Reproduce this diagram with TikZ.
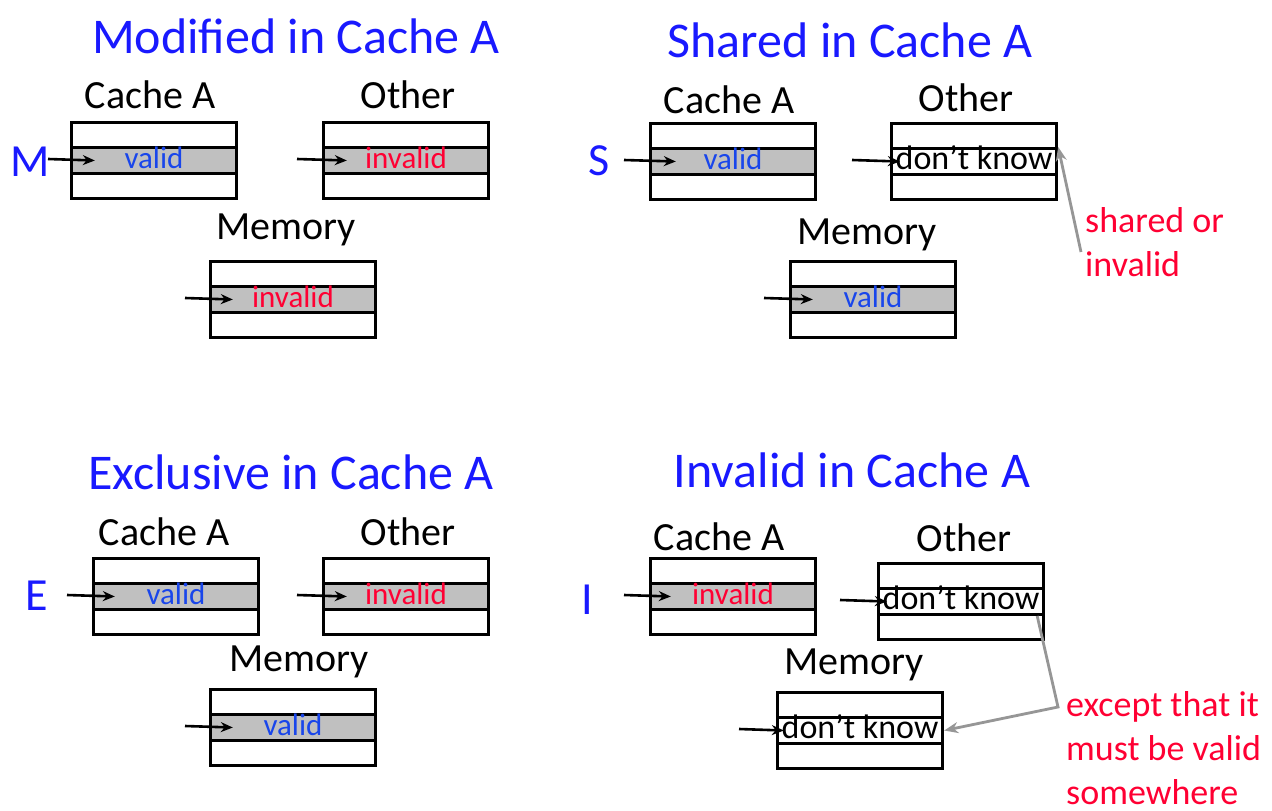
\documentclass[tikz,border=0pt]{standalone}
\usepackage{fontspec}
\setmainfont{Carlito}
\usetikzlibrary{arrows.meta}
\definecolor{ttlblue}{RGB}{25,25,255}
\definecolor{valblue}{RGB}{25,70,235}
\definecolor{notered}{RGB}{255,0,51}
\definecolor{rowgray}{RGB}{192,192,192}
\definecolor{linkgray}{RGB}{150,150,150}
\tikzset{
  outerbox/.style={draw, line width=3pt, minimum width=165pt, minimum height=76pt,
    inner sep=0pt, anchor=north west},
  rowbox/.style={draw, line width=3.4pt, minimum width=165pt, minimum height=25.5pt,
    inner sep=0pt, text height=20pt, text depth=5pt, font=\fontsize{31}{36}\selectfont},
  validrow/.style={rowbox, fill=rowgray, text=valblue},
  invalidrow/.style={rowbox, fill=rowgray, text=notered},
  unknownrow/.style={rowbox, fill=white, text=black, font=\fontsize{34}{38}\selectfont},
  ttl/.style={text=ttlblue, font=\fontsize{50}{60}\selectfont},
  lbl/.style={font=\fontsize{40}{48}\selectfont},
  state/.style={text=ttlblue, font=\fontsize{46}{56}\selectfont},
  ptr/.style={-{Stealth[length=12pt,width=10pt]}, line width=2.6pt},
  link/.style={linkgray, line width=2.8pt, -{Stealth[length=14pt,width=11pt]}},
  note/.style={text=notered, align=left, anchor=base west, inner sep=0pt},
}
\begin{document}
\begin{tikzpicture}[x=1pt, y=-1pt]
\useasboundingbox[fill=white] (0,0) rectangle (1272,811);

% ---------- Modified ----------
\node[ttl] (mt) at (296,36) {Modified in Cache A};
\node[lbl] (mal) at (150,95) {Cache A};
\node[lbl] (mol) at (408,95) {Other};
\node[lbl] (mml) at (286,230) {Memory};
\node[outerbox] (ma) at (70,121) {};
\node[validrow] (ma-row) at (ma.center) {valid};
\node[outerbox] (mo) at (322,121) {};
\node[invalidrow] (mo-row) at (mo.center) {invalid};
\node[outerbox] (mm) at (209,260) {};
\node[invalidrow] (mm-row) at (mm.center) {invalid};
\node[state] (ms) at (30,162) {M};
\coordinate (ma-in) at (48,159);
\coordinate (mo-in) at (297,159);
\coordinate (mm-in) at (185,298);
\draw[ptr] (ma-in) -- ([xshift=25pt]ma-row.west);
\draw[ptr] (mo-in) -- ([xshift=25pt]mo-row.west);
\draw[ptr] (mm-in) -- ([xshift=24pt]mm-row.west);

% ---------- Shared ----------
\node[ttl] (st) at (850,40) {Shared in Cache A};
\node[lbl] (sal) at (729,100) {Cache A};
\node[lbl] (sol) at (966,98) {Other};
\node[lbl] (sml) at (867,235) {Memory};
\node[outerbox] (sa) at (649,122) {};
\node[validrow] (sa-row) at (sa.center) {valid};
\node[outerbox] (so) at (890,122) {};
\node[unknownrow] (so-row) at (so.center) {don’t know};
\node[outerbox] (sm) at (789,260) {};
\node[validrow] (sm-row) at (sm.center) {valid};
\node[state] (ss) at (599,161) {S};
\coordinate (sa-in) at (624,160);
\coordinate (so-in) at (852,160);
\coordinate (sm-in) at (764,298);
\draw[ptr] (sa-in) -- ([xshift=27pt]sa-row.west);
\draw[ptr] (so-in) -- ([xshift=10pt]so-row.west);
\draw[ptr] (sm-in) -- ([xshift=24pt]sm-row.west);
\node[note, font=\fontsize{36}{44}\selectfont] (sn) at (1085,276) {shared or\\invalid};
\coordinate (sn-tail) at (1081,252);
\draw[link] (sn-tail) -- (so-row.north east);

% ---------- Exclusive ----------
\node[ttl] (et) at (291,472) {Exclusive in Cache A};
\node[lbl] (eal) at (164,532) {Cache A};
\node[lbl] (eol) at (408,532) {Other};
\node[lbl] (eml) at (299,662) {Memory};
\node[outerbox] (ea) at (92,557) {};
\node[validrow] (ea-row) at (ea.center) {valid};
\node[outerbox] (eo) at (322,557) {};
\node[invalidrow] (eo-row) at (eo.center) {invalid};
\node[outerbox] (em) at (209,688) {};
\node[validrow] (em-row) at (em.center) {valid};
\node[state] (es) at (37,596) {E};
\coordinate (ea-in) at (67,595);
\coordinate (eo-in) at (297,595);
\coordinate (em-in) at (185,726);
\draw[ptr] (ea-in) -- ([xshift=23pt]ea-row.west);
\draw[ptr] (eo-in) -- ([xshift=25pt]eo-row.west);
\draw[ptr] (em-in) -- ([xshift=24pt]em-row.west);

% ---------- Invalid ----------
\node[ttl] (it) at (852,470) {Invalid in Cache A};
\node[lbl] (ial) at (719,537) {Cache A};
\node[lbl] (iol) at (964,538) {Other};
\node[lbl] (iml) at (854,665) {Memory};
\node[outerbox] (ia) at (649,557) {};
\node[invalidrow] (ia-row) at (ia.center) {invalid};
\node[outerbox] (io) at (877,562) {};
\node[unknownrow] (io-row) at (io.center) {don’t know};
\node[outerbox] (im) at (776,691) {};
\node[unknownrow] (im-row) at (im.center) {don’t know};
\node[state] (is) at (587,600) {I};
\coordinate (ia-in) at (624,595);
\coordinate (io-in) at (840,600);
\coordinate (im-in) at (739,729);
\draw[ptr] (ia-in) -- ([xshift=22pt]ia-row.west);
\draw[ptr] (io-in) -- ([xshift=10pt]io-row.west);
\draw[ptr] (im-in) -- ([xshift=8pt]im-row.west);
\node[note, font=\fontsize{36}{44}\selectfont] (in) at (1066,804)
  {except that it\\must be valid\\somewhere};
\coordinate (i-bend) at (1058,707);
\draw[link] ([xshift=-8pt]io-row.south east) -- (i-bend) -- (im-row.east);
\end{tikzpicture}
\end{document}
